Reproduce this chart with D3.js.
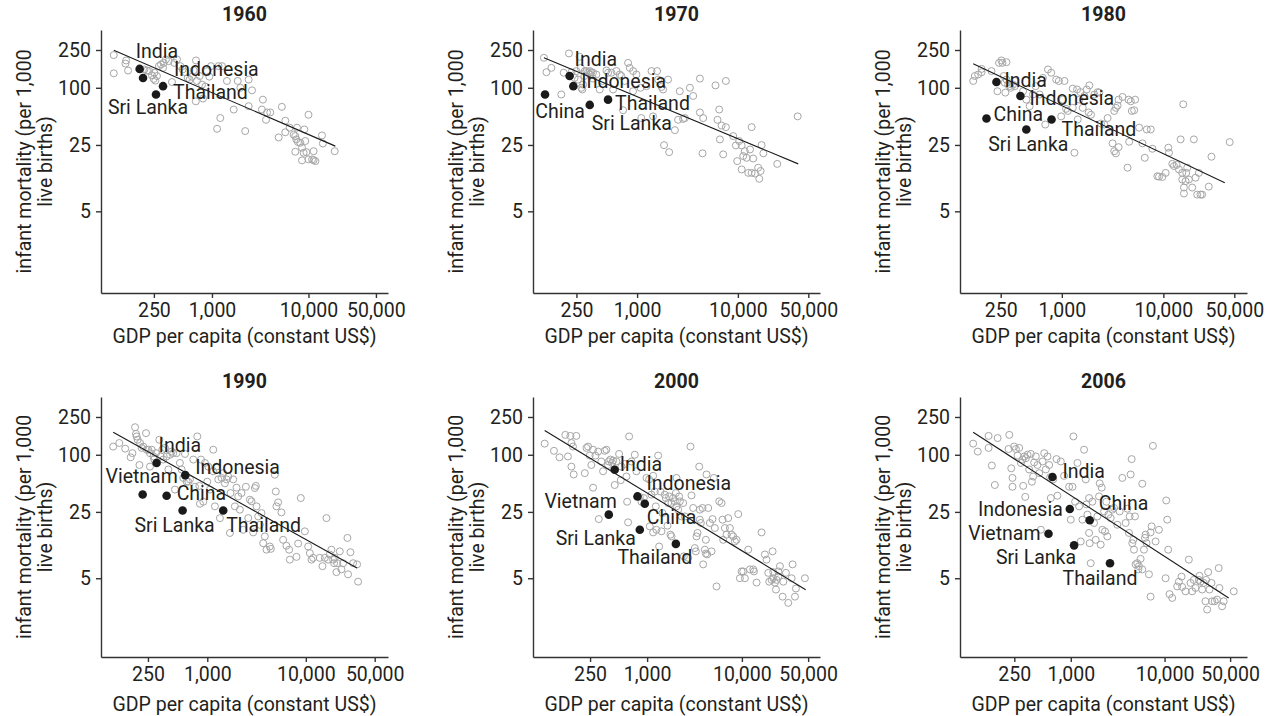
<!DOCTYPE html>
<html>
<head>
<meta charset="utf-8">
<script src="https://cdn.jsdelivr.net/npm/d3@7"></script>
<style>
  body { margin: 0; background: #fff; }
  text { font-family: Roboto, "Open Sans", sans-serif; fill: #231f20; }
</style>
</head>
<body>
<svg id="chart" width="1270" height="716"></svg>
<script>
const years = ["1960", "1970", "1980", "1990", "2000", "2006"];
const xTicks = [250, 1000, 10000, 50000];
const yTicks = [5, 25, 100, 250];
const xDomains = [[70.8, 66700], [92.7, 65300], [99.3, 66700], [83.5, 68200], [62.5, 66700], [65.9, 75700]];
const yDomains = [[0.69, 406], [0.74, 406]];

// gdp per capita, infant mortality -- all other countries
const others1960 = [[96,221],[96,142],[129,194],[127,180],[135,152],[199,156],[212,152],[224,150],[239,135],[249,124],[259,119],[253,144],[269,133],[282,169],[296,176],[316,183],[311,162],[333,199],[356,191],[385,115],[407,183],[434,199],[470,169],[497,156],[529,146],[560,127],[587,122],[621,131],[646,153],[683,194],[699,118],[745,133],[788,108],[807,77],[887,150],[938,131],[977,169],[1170,169],[1270,169],[1430,118],[1680,59],[1850,118],[1970,100],[2400,122],[2400,64],[2600,94],[3370,75],[3290,59],[3720,55],[3630,46],[4020,55],[5300,63],[5750,45],[5750,34],[4910,30],[6380,38],[7020,32],[7300,31],[7600,38],[7480,28.6],[7780,26.8],[8220,26.4],[8570,23.4],[8910,20.7],[8570,17.2],[9510,21],[9270,27.5],[9060,36.4],[10000,52],[10000,17.6],[10900,17.6],[11300,17.3],[11300,21.5],[11800,16.9],[13800,31.5],[14100,25.9],[18700,21.5],[7300,21.2],[1220,48],[1130,37],[2210,35],[853,103],[680,72]];
const others1970 = [[119,207],[126,146],[141,162],[177,85],[187,144],[211,230],[223,146],[240,127],[250,150],[259,122],[269,212],[276,162],[286,96],[291,108],[302,150],[314,150],[326,146],[339,150],[352,146],[365,144],[394,138],[426,96],[453,118],[496,152],[515,144],[556,144],[578,96],[624,150],[673,138],[699,133],[726,58],[754,118],[814,183],[845,162],[912,150],[912,92],[985,138],[1080,100],[1100,48],[1240,104],[1390,150],[1440,50],[1580,150],[1620,122],[1750,102],[1810,96],[1850,24.9],[2030,122],[2080,21],[2370,35.8],[2550,46],[2650,92],[2860,47],[2980,48],[3340,100],[3600,82],[4200,125],[4200,55],[4530,48],[4460,20.4],[6000,106],[6280,46],[6530,59],[6630,28.6],[6890,40],[7150,19.9],[7600,118],[7600,38.5],[8990,31],[9550,24.7],[9850,16.9],[10300,27.5],[10900,13.8],[10900,24.7],[11300,19.1],[11700,21.5],[12200,18.3],[12700,12.7],[13200,22.4],[13700,38.5],[13700,12.7],[14200,18],[14800,12.5],[15900,14.4],[16300,11],[16800,13.3],[17200,24.9],[17900,20.4],[24600,15.8],[39200,50],[300,133],[340,138],[365,125],[280,100]];
const others1980 = [[134,118],[139,133],[150,138],[162,158],[162,146],[203,150],[241,183],[254,194],[260,183],[268,133],[285,186],[274,113],[285,122],[296,108],[307,104],[314,100],[331,108],[344,104],[344,118],[232,92],[278,89],[415,92],[447,75],[482,64],[520,85],[552,104],[604,85],[651,127],[687,41],[730,156],[786,144],[880,122],[935,118],[985,50],[1023,75],[1062,118],[1100,60],[1145,57],[1282,98],[1331,20.7],[1282,61.5],[1413,96],[1435,46.4],[1490,75],[1524,90],[1607,61.5],[1668,82],[1759,96],[1841,55],[1868,106],[1939,52],[2091,85],[2254,90],[2340,89],[2430,42],[2620,41],[2825,48],[3162,26],[3282,57],[3282,21.5],[3408,20.4],[3408,61.5],[3540,65],[3622,23.7],[3622,75],[3966,80],[4440,14.4],[4540,75],[4605,27],[4783,72],[4893,57],[5157,58],[5277,75],[5772,38],[6223,26],[6562,18.3],[6866,36.4],[7520,36.4],[7805,22.8],[8730,11.7],[9075,11.6],[9780,11.5],[10540,12.7],[11200,23.4],[11370,20.7],[12250,15.8],[12730,15],[13520,15.4],[14260,13.8],[14800,28.6],[15360,10.8],[15360,12.7],[15960,8.9],[15960,7.7],[16560,10.4],[16800,12.7],[17190,14.4],[17850,10.8],[19250,8.9],[19980,28.6],[20750,11.3],[21540,7.5],[22370,12.7],[23230,7.5],[24120,7.5],[28040,9.1],[29790,18.8],[45070,26.8],[15710,67]];
const others1990 = [[111,122],[128,133],[147,116],[167,94],[174,104],[185,195],[189,166],[192,156],[197,144],[205,78],[208,133],[216,118],[224,122],[239,169],[243,113],[252,113],[262,104],[273,113],[262,75],[284,96],[290,89],[302,104],[326,144],[337,96],[350,113],[358,89],[372,118],[387,96],[403,70],[419,100],[435,108],[452,104],[470,43],[489,104],[528,82],[549,70],[571,57],[594,102],[618,52],[642,52],[667,55],[721,89],[750,46],[792,156],[830,47],[843,30.5],[863,89],[911,32],[947,82],[1000,52],[1024,75],[1064,43],[1150,113],[1150,67],[1196,28.6],[1243,75],[1293,55],[1344,21.5],[1397,57],[1452,64],[1510,50],[1570,55],[1632,59],[1697,15],[1722,39.5],[1834,55],[1906,28.6],[1982,45],[2060,36.4],[2142,26.4],[2227,39.5],[2315,16.2],[2464,46],[2604,21.5],[2707,33.6],[2814,32.3],[2925,15.2],[3041,44.6],[3111,47],[3161,28.6],[3286,22.4],[3416,18.3],[3551,24.3],[3692,11.7],[3838,13.8],[3990,10],[4311,10.8],[4415,10.2],[4843,61.6],[4958,41],[5034,28.6],[5234,31.5],[5656,24.7],[5880,12.7],[6353,11],[6771,10],[6883,7.85],[8037,8.4],[8355,11.6],[8891,35],[9775,15.6],[10560,10.8],[10980,9.2],[11410,7.85],[11860,8.2],[13850,8.2],[14760,6.7],[15590,8.2],[16190,21.5],[16830,7.85],[17500,8.9],[18190,10],[18910,7.85],[19370,7.2],[19660,8.2],[20440,5.8],[20790,7.2],[22110,9.6],[22980,6.2],[23890,7.2],[26420,13.3],[26830,5.5],[28370,9.4],[30200,7.2],[33120,7],[33910,4.6]];
const others2000 = [[83,131],[104,110],[119,94],[137,162],[146,96],[155,158],[159,75],[159,133],[165,122],[168,62],[179,158],[220,64],[229,118],[238,122],[248,98],[258,78],[269,45],[269,113],[285,98],[304,108],[309,21],[329,85],[343,67],[357,110],[372,113],[387,78],[394,85],[410,89],[427,82],[438,87],[455,48],[474,85],[506,102],[527,54],[536,75],[581,80],[605,59],[615,32],[630,19.4],[646,156],[684,85],[741,100],[771,67],[837,36],[871,32],[922,35],[984,57],[1050,55],[1067,17.6],[1111,38],[1157,60],[1157,15.2],[1205,41],[1235,28.6],[1255,16.2],[1307,98],[1339,10.8],[1383,41],[1417,15.6],[1452,24.3],[1537,38],[1574,35],[1640,17.9],[1667,31],[1707,36.4],[1764,14.4],[1807,13.8],[1807,31],[1882,35],[1960,32.3],[2010,39.5],[2042,28.6],[2042,57],[2126,26.4],[2178,36.4],[2214,32.3],[2305,22.4],[2400,31],[2439,8.5],[2499,22.4],[2711,8.2],[2869,122],[2940,37.3],[3061,27.5],[3187,10.4],[3265,9.6],[3318,13.8],[3401,15],[3544,75],[3600,26.4],[3600,20.7],[3690,19.1],[3842,27.5],[3904,7],[4066,10],[4166,12.7],[4166,9.1],[4235,62],[4305,8.9],[4411,27.5],[4593,19.1],[4783,9.6],[4900,21],[5060,57],[5184,16.9],[5398,4.1],[5764,32.3],[6100,31],[6250,20.7],[6350,12.7],[6614,16.9],[6887,14.4],[7172,21.5],[7469,16.9],[7778,14.4],[8100,13.8],[8435,12.2],[8784,12.7],[9147,23.7],[9526,5],[9920,5.9],[10330,5.9],[10760,5],[11660,10],[12150,6.2],[13170,6.2],[13400,5.9],[14290,4.5],[16130,15.2],[17490,8.9],[18210,7.85],[18970,5.7],[19440,4.6],[20580,4.8],[21090,9.6],[21430,5.8],[21430,5],[22320,4.5],[22870,3.8],[23240,4.8],[24210,5.2],[24210,5.9],[25210,6.7],[26900,3.2],[27350,4.6],[29160,5.7],[30860,2.75],[33470,5],[34290,7],[36310,3.2],[37160,3.9],[46240,5]];
const others2006 = [[91,131],[102,108],[133,118],[133,158],[144,77],[155,48],[166,150],[221,162],[217,115],[232,72],[239,57],[239,46],[249,122],[260,115],[271,98],[282,118],[294,82],[306,89],[311,47],[319,96],[327,36],[332,92],[346,100],[360,70],[375,102],[385,52],[397,59],[407,83],[424,96],[442,78],[460,64],[480,16.2],[500,85],[521,104],[542,70],[565,96],[588,78],[603,58],[613,35],[649,55],[704,90],[721,37],[783,85],[849,60],[960,46],[1000,20.7],[1042,46],[1067,156],[1112,32],[1178,82],[1227,28.6],[1278,12.2],[1331,20.7],[1386,113],[1444,55],[1468,30],[1504,23.4],[1567,15],[1567,35],[1592,11.7],[1632,7.2],[1700,32],[1771,19.1],[1845,12.7],[1922,22.4],[2002,36.4],[2035,50],[2085,11.3],[2138,45],[2172,16.2],[2263,25.3],[2319,15.6],[2395,32],[2454,13.8],[2515,23.4],[2664,21.5],[2775,26.4],[2890,27.5],[3135,18.3],[3320,25.3],[3546,57],[3846,19.1],[4007,27],[4174,15],[4243,22.4],[4348,62],[4456,90],[4529,11.7],[4640,12.7],[4718,10],[4835,22.4],[4913,7],[5118,7.2],[5245,6.2],[5331,6.7],[5554,8],[5785,49.5],[5785,6.2],[6027,10],[6176,13.3],[6279,14.4],[6434,11.7],[6813,5.5],[7097,15.2],[7097,3.2],[7272,17.6],[7515,124],[8023,12.2],[8708,16.2],[10260,5],[10420,33],[10680,20.7],[10940,10],[11300,3.4],[12070,3.1],[13640,4.1],[14210,4.6],[15170,5.2],[15410,4.05],[16730,3.64],[18160,7.85],[18920,4.46],[19710,3.64],[20530,4.8],[21390,3.95],[23200,4.8],[23580,5.3],[24170,4.6],[25180,3.8],[26230,4.46],[27320,2.86],[27770,4.8],[28460,2.34],[29160,5.8],[30130,3.8],[31640,4.46],[32160,2.86],[34300,2.86],[36280,2.98],[37800,6.4],[38430,3.95],[41040,2.53],[42740,2.86],[54650,3.64]];

// highlighted countries: name, gdp, infant mortality
const focus1960 = [["India",178,158],["Indonesia",193,127],["Thailand",311,104],["Sri Lanka",263,85]];
const focus1970 = [["China",122,85],["India",214,133],["Indonesia",233,104],["Sri Lanka",339,66],["Thailand",515,75]];
const focus1980 = [["India",227,115],["Indonesia",391,82],["China",181,47.5],["Thailand",792,46.4],["Sri Lanka",447,36.4]];
const focus1990 = [["India",306,82],["Indonesia",598,61],["Vietnam",221,38.2],["China",387,37],["Sri Lanka",562,25.9],["Thailand",1452,25.9]];
const focus2000 = [["India",455,69.5],["Indonesia",791,36.4],["China",945,30.5],["Vietnam",394,23.4],["Sri Lanka",837,16.2],["Thailand",2010,11.5]];
const focus2006 = [["India",638,58.2],["Indonesia",976,26.8],["China",1592,20.4],["Vietnam",579,14.7],["Sri Lanka",1085,11.1],["Thailand",2620,7.2]];

// fitted line end points (gdp, infant mortality)
const fit1960 = [[96,249],[18970,24.3]];
const fit1970 = [[119,207],[39700,15.8]];
const fit1980 = [[134,179],[40300,10]];
const fit1990 = [[111,173],[33100,6.4]];
const fit2000 = [[83,180],[47100,3.79]];
const fit2006 = [[91,173],[48300,3.1]];

// label placement: dx, dy from the dot, text-anchor
const labelPos = {
  "1960": { "India": [-4, -11, "start"], "Indonesia": [31, -2, "start"], "Thailand": [10, 13, "start"], "Sri Lanka": [-8, 20, "middle"] },
  "1970": { "India": [5, -10, "start"], "Indonesia": [8, 2, "start"], "Thailand": [7, 10, "start"], "China": [15, 24, "middle"], "Sri Lanka": [2, 25, "start"] },
  "1980": { "India": [8, 5, "start"], "Indonesia": [9, 9, "start"], "China": [7, 3, "start"], "Thailand": [10, 17, "start"], "Sri Lanka": [2, 22, "middle"] },
  "1990": { "India": [2, -11, "start"], "Indonesia": [10, -1, "start"], "Vietnam": [-1, -11, "middle"], "China": [10, 4, "start"], "Sri Lanka": [-8, 22, "middle"], "Thailand": [3, 22, "start"] },
  "2000": { "India": [5, 1, "start"], "Indonesia": [9, -6, "start"], "China": [2, 20, "start"], "Vietnam": [8, -7, "end"], "Sri Lanka": [-4, 15, "end"], "Thailand": [-21, 20, "middle"] },
  "2006": { "India": [10, 1, "start"], "Indonesia": [-7, 7, "end"], "China": [9, -10, "start"], "Vietnam": [-8, 6, "end"], "Sri Lanka": [2, 19, "end"], "Thailand": [-10, 22, "middle"] }
};

const others = [others1960, others1970, others1980, others1990, others2000, others2006];
const focus = [focus1960, focus1970, focus1980, focus1990, focus2000, focus2006];
const fits = [fit1960, fit1970, fit1980, fit1990, fit2000, fit2006];

const svg = d3.select("#chart");
const colLeft = [101, 533, 960];
const rowTop = [30, 397];
const rowHeight = [263, 260];
const xTitleGap = [50, 54];
const plotW = 287;
const fontSize = 19.5;

years.forEach((year, i) => {
  const col = i % 3, row = Math.floor(i / 3);
  const left = colLeft[col], top = rowTop[row], h = rowHeight[row];

  const x = d3.scaleLog().domain(xDomains[i]).range([left, left + plotW]);
  const y = d3.scaleLog().domain(yDomains[row]).range([top + h, top]);

  const g = svg.append("g");

  // axes
  const xAxis = g.append("g")
    .attr("transform", `translate(0,${top + h})`)
    .call(d3.axisBottom(x).tickValues(xTicks).tickFormat(d3.format(",")).tickSize(5).tickPadding(5).tickSizeOuter(0));
  const yAxis = g.append("g")
    .attr("transform", `translate(${left},0)`)
    .call(d3.axisLeft(y).tickValues(yTicks).tickFormat(d3.format("d")).tickSize(5).tickPadding(5).tickSizeOuter(0));
  [xAxis, yAxis].forEach(a => {
    a.selectAll("path, line").attr("stroke", "#333").attr("stroke-width", 1.4);
    a.selectAll("text").style("font-size", fontSize + "px").attr("fill", "#231f20");
  });

  // title
  g.append("text")
    .attr("x", left + plotW / 2)
    .attr("y", top - 9)
    .attr("text-anchor", "middle")
    .style("font-size", fontSize + "px")
    .style("font-weight", "bold")
    .text(year);

  // axis titles
  g.append("text")
    .attr("x", left + plotW / 2)
    .attr("y", top + h + xTitleGap[row])
    .attr("text-anchor", "middle")
    .style("font-size", fontSize + "px")
    .text("GDP per capita (constant US$)");

  const yt = g.append("text")
    .attr("transform", `translate(${left - 70},${top + h / 2}) rotate(-90)`)
    .attr("text-anchor", "middle")
    .style("font-size", fontSize + "px");
  yt.append("tspan").attr("x", 0).attr("y", 0).text("infant mortality (per 1,000");
  yt.append("tspan").attr("x", 0).attr("y", 21).text("live births)");

  // other countries
  g.append("g")
    .selectAll("circle")
    .data(others[i])
    .join("circle")
    .attr("cx", d => x(d[0]))
    .attr("cy", d => y(d[1]))
    .attr("r", 3.5)
    .attr("fill", "none")
    .attr("stroke", "#a6a6a6")
    .attr("stroke-width", 1);

  // fitted line
  g.append("line")
    .attr("x1", x(fits[i][0][0])).attr("y1", y(fits[i][0][1]))
    .attr("x2", x(fits[i][1][0])).attr("y2", y(fits[i][1][1]))
    .attr("stroke", "#1a1a1a")
    .attr("stroke-width", 1.1);

  // highlighted countries
  g.append("g")
    .selectAll("circle")
    .data(focus[i])
    .join("circle")
    .attr("cx", d => x(d[1]))
    .attr("cy", d => y(d[2]))
    .attr("r", 4.3)
    .attr("fill", "#1a1a1a");

  g.append("g")
    .selectAll("text")
    .data(focus[i])
    .join("text")
    .attr("x", d => x(d[1]) + labelPos[year][d[0]][0])
    .attr("y", d => y(d[2]) + labelPos[year][d[0]][1])
    .attr("text-anchor", d => labelPos[year][d[0]][2])
    .style("font-size", fontSize + "px")
    .text(d => d[0]);
});
</script>
</body>
</html>
